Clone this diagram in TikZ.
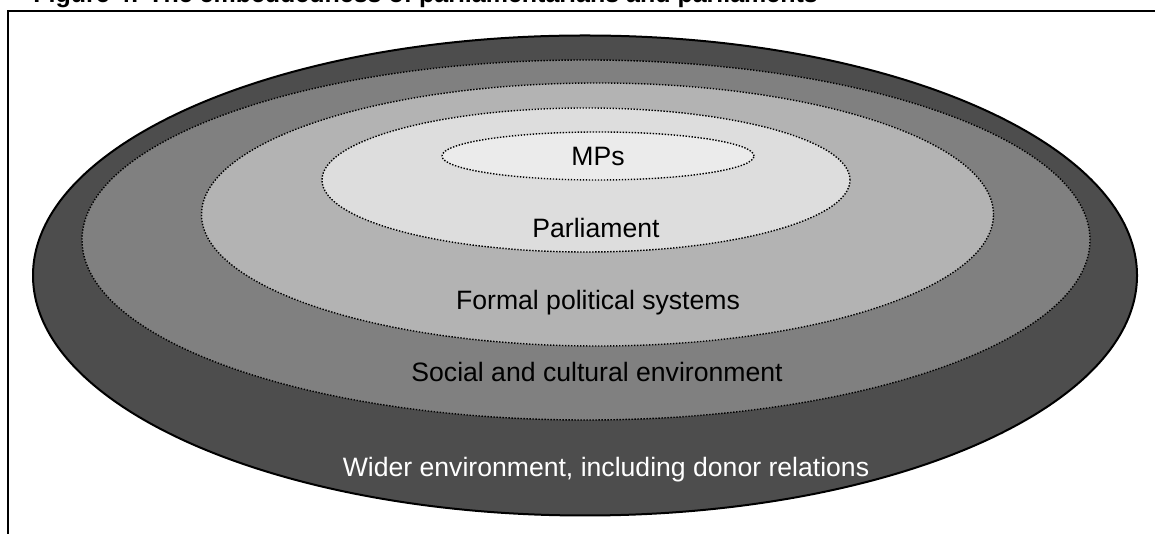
\documentclass[tikz,border=0pt]{standalone}
\usepackage{fontspec}
\setmainfont{Liberation Sans}
\definecolor{wider}{HTML}{4D4D4D}
\definecolor{social}{HTML}{808080}
\definecolor{formal}{HTML}{B3B3B3}
\definecolor{parl}{HTML}{DDDDDD}
\definecolor{mps}{HTML}{EBEBEB}
\tikzset{
  ring/.style={draw=black,line width=.7pt,dash pattern=on .7pt off .8pt},
  lbl/.style={anchor=base,inner sep=0pt,font=\fontsize{13.3}{16}\selectfont}
}
\begin{document}
\begin{tikzpicture}[x=.5pt,y=.5pt]
  \useasboundingbox (0,0) rectangle (1155,534);

  %% title, cut off at the top
  \node (title) at (33,531) [anchor=base west,inner sep=0pt,font=\fontsize{12.5}{15}\bfseries]
    {Figure 4: The embeddedness of parliamentarians and parliaments};

  %% frame
  \draw[line width=.9pt] (8,-5) -- (8,523) -- (1165,523);

  %% rings
  \draw[fill=wider,line width=1pt] (585,258.5) ellipse [x radius=552,y radius=240];
  \draw[ring,fill=social] (586,294) ellipse [x radius=504,y radius=180];
  \draw[ring,fill=formal] (597.5,319.5) ellipse [x radius=396,y radius=131.5];
  \draw[ring,fill=parl] (586,354) ellipse [x radius=264,y radius=72];
  \draw[ring,fill=mps] (598,378) ellipse [x radius=156,y radius=24];

  %% labels
  \node (mp) at (598,368) [lbl] {MPs};
  \node (parliament) at (596,296) [lbl] {Parliament};
  \node (formal) at (598,224) [lbl] {Formal political systems};
  \node (social) at (597,152) [lbl] {Social and cultural environment};
  \node (wider) at (606,57) [lbl,text=white] {Wider environment, including donor relations};
\end{tikzpicture}
\end{document}
